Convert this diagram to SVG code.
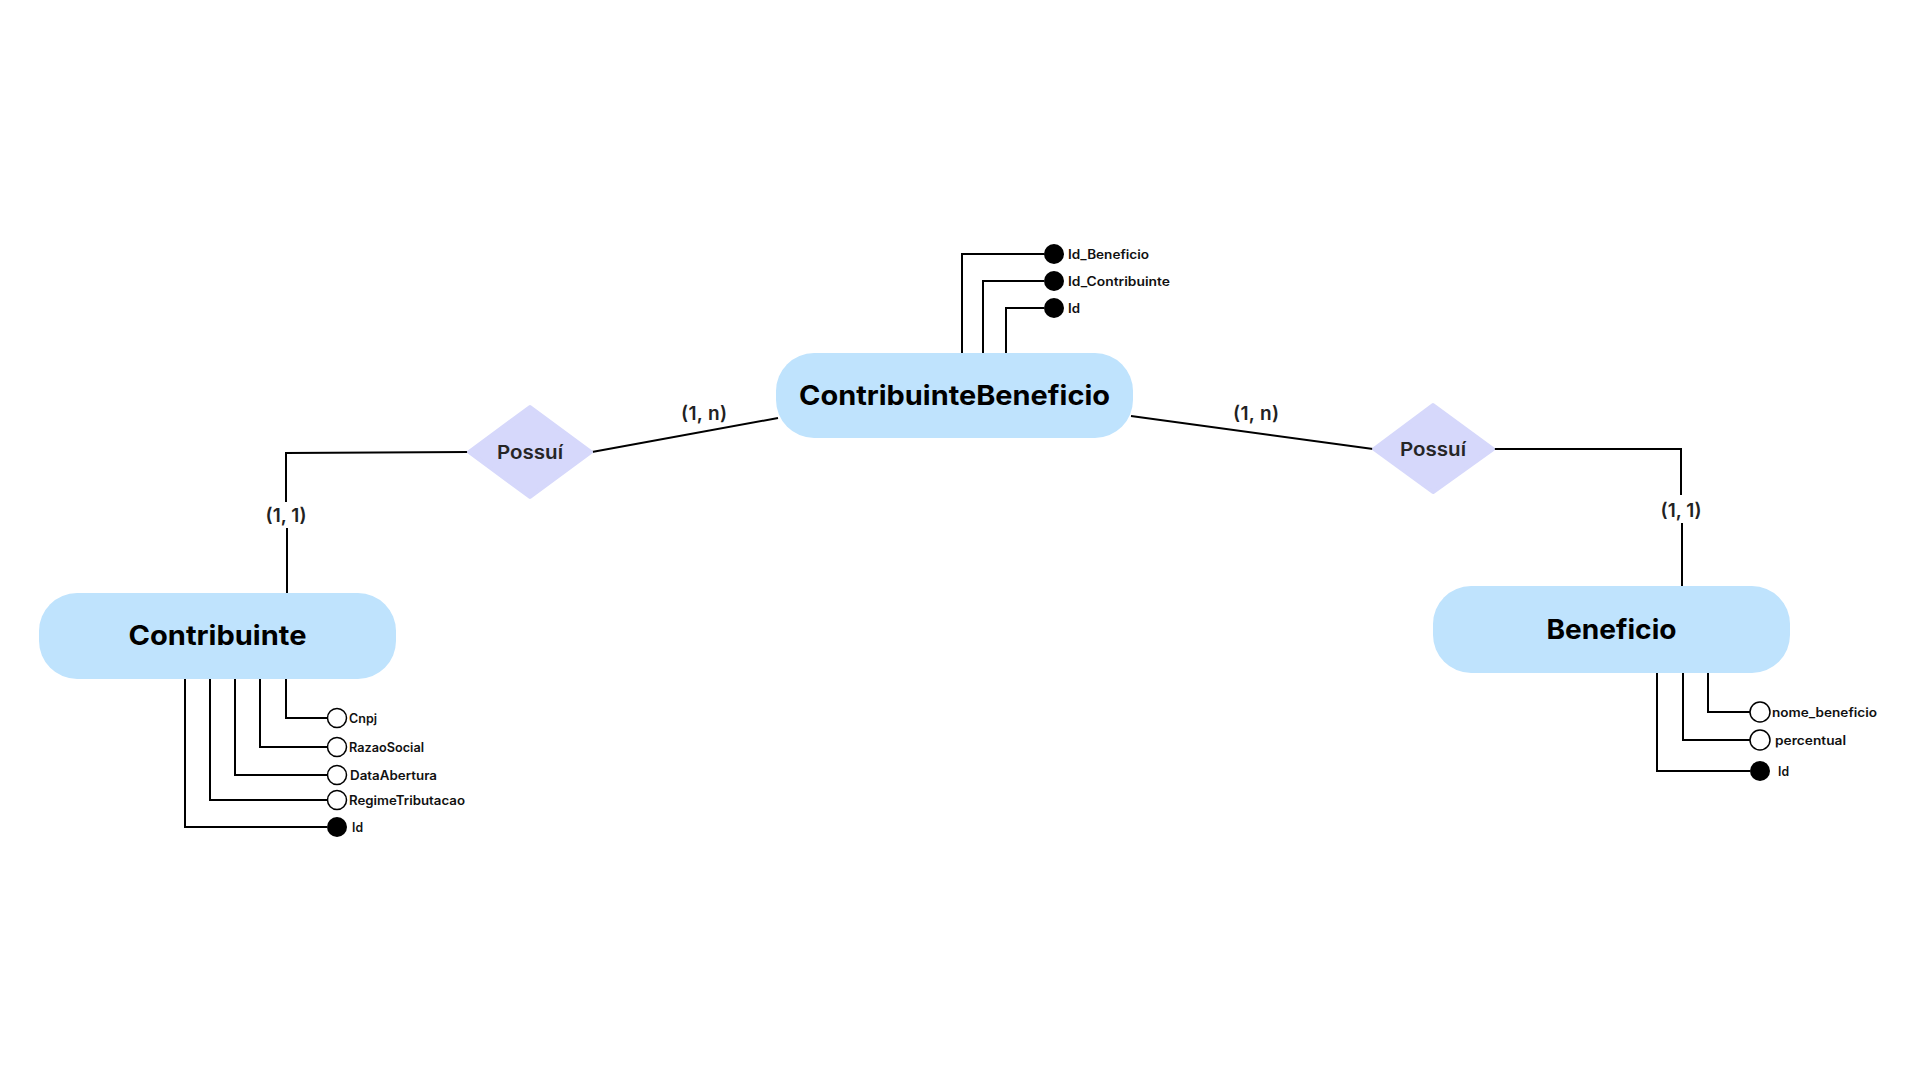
<svg xmlns="http://www.w3.org/2000/svg" width="1920" height="1080" viewBox="0 0 1920 1080">
<style>
.entity{fill:#bfe3fd}
.rel{fill:#d6d8fb;stroke:#d6d8fb;stroke-width:4;stroke-linejoin:round}
.ln{fill:none;stroke:#000;stroke-width:2}
.title{font-family:Inter,"Liberation Sans",sans-serif;font-weight:700;font-size:27px;fill:#000;text-anchor:middle}
.rtext{font-family:Inter,"Liberation Sans",sans-serif;font-weight:600;font-size:19px;fill:#262626;text-anchor:middle}
.card{font-family:Inter,"Liberation Sans",sans-serif;font-weight:600;font-size:19px;fill:#222;text-anchor:middle}
.attr{font-family:Inter,"Liberation Sans",sans-serif;font-weight:600;font-size:12.5px;fill:#111}
.pk{fill:#000}
.att{fill:#fff;stroke:#000;stroke-width:1.5}
</style>
<rect width="1920" height="1080" fill="#fff"/>
<g id="connectors">
  <polyline class="ln" points="468,452 286,453 286,502"/>
  <line class="ln" x1="287" y1="528" x2="287" y2="593"/>
  <line class="ln" x1="592" y1="452" x2="778" y2="418"/>
  <line class="ln" x1="1131" y1="416" x2="1373" y2="449"/>
  <polyline class="ln" points="1494,449 1681,449 1681,495"/>
  <line class="ln" x1="1682" y1="523" x2="1682" y2="586"/>
  <path class="ln" d="M962,353 V254 H1044"/>
  <path class="ln" d="M983,353 V281 H1044"/>
  <path class="ln" d="M1006,353 V308 H1044"/>
  <path class="ln" d="M286,679 V718 H327"/>
  <path class="ln" d="M260,679 V747 H327"/>
  <path class="ln" d="M235,679 V775 H327"/>
  <path class="ln" d="M210,679 V800 H327"/>
  <path class="ln" d="M185,679 V827 H327"/>
  <path class="ln" d="M1708,673 V712 H1750"/>
  <path class="ln" d="M1683,673 V740 H1750"/>
  <path class="ln" d="M1657,673 V771 H1750"/>
  <text class="card" x="704" y="420" textLength="46">(1, n)</text>
  <text class="card" x="1256" y="420" textLength="46">(1, n)</text>
  <text class="card" x="286" y="522" textLength="41">(1, 1)</text>
  <text class="card" x="1681" y="517" textLength="41">(1, 1)</text>
</g>
<g id="ContribuinteBeneficio">
  <rect class="entity" x="776" y="353" width="357" height="85" rx="38"/>
  <text class="title" x="954.5" y="405" textLength="311" lengthAdjust="spacingAndGlyphs">ContribuinteBeneficio</text>
</g>
<g id="Contribuinte">
  <rect class="entity" x="39" y="593" width="357" height="86" rx="38"/>
  <text class="title" x="217.5" y="645" textLength="178" lengthAdjust="spacingAndGlyphs">Contribuinte</text>
</g>
<g id="Beneficio">
  <rect class="entity" x="1433" y="586" width="357" height="87" rx="38"/>
  <text class="title" x="1611.5" y="639" textLength="130" lengthAdjust="spacingAndGlyphs">Beneficio</text>
</g>
<g id="PossuiLeft">
  <polygon class="rel" points="530,407 591,452 530,497 469,452"/>
  <text class="rtext" x="530" y="459" textLength="66" lengthAdjust="spacingAndGlyphs">Possuí</text>
</g>
<g id="PossuiRight">
  <polygon class="rel" points="1433,405 1493,449 1433,492 1374,449"/>
  <text class="rtext" x="1433" y="456" textLength="66" lengthAdjust="spacingAndGlyphs">Possuí</text>
</g>
<g id="cb_Id_Beneficio">
  <circle class="pk" cx="1054" cy="254" r="10"/>
  <text class="attr" x="1068" y="258.5" textLength="81" lengthAdjust="spacingAndGlyphs">Id_Beneficio</text>
</g>
<g id="cb_Id_Contribuinte">
  <circle class="pk" cx="1054" cy="281" r="10"/>
  <text class="attr" x="1068" y="285.5" textLength="102" lengthAdjust="spacingAndGlyphs">Id_Contribuinte</text>
</g>
<g id="cb_Id">
  <circle class="pk" cx="1054" cy="308" r="10"/>
  <text class="attr" x="1068" y="312.5" textLength="12" lengthAdjust="spacingAndGlyphs">Id</text>
</g>
<g id="c_Cnpj">
  <circle class="att" cx="337" cy="718" r="9.5"/>
  <text class="attr" x="349" y="722.5" textLength="28" lengthAdjust="spacingAndGlyphs">Cnpj</text>
</g>
<g id="c_RazaoSocial">
  <circle class="att" cx="337" cy="747" r="9.5"/>
  <text class="attr" x="349" y="751.5" textLength="75" lengthAdjust="spacingAndGlyphs">RazaoSocial</text>
</g>
<g id="c_DataAbertura">
  <circle class="att" cx="337" cy="775" r="9.5"/>
  <text class="attr" x="350" y="779.5" textLength="87" lengthAdjust="spacingAndGlyphs">DataAbertura</text>
</g>
<g id="c_RegimeTributacao">
  <circle class="att" cx="337" cy="800" r="9.5"/>
  <text class="attr" x="349" y="804.5" textLength="116" lengthAdjust="spacingAndGlyphs">RegimeTributacao</text>
</g>
<g id="c_Id">
  <circle class="pk" cx="337" cy="827" r="10"/>
  <text class="attr" x="352" y="831.5" textLength="11" lengthAdjust="spacingAndGlyphs">Id</text>
</g>
<g id="b_nome_beneficio">
  <circle class="att" cx="1760" cy="712" r="10"/>
  <text class="attr" x="1772" y="716.5" textLength="105" lengthAdjust="spacingAndGlyphs">nome_beneficio</text>
</g>
<g id="b_percentual">
  <circle class="att" cx="1760" cy="740" r="10"/>
  <text class="attr" x="1775" y="744.5" textLength="71" lengthAdjust="spacingAndGlyphs">percentual</text>
</g>
<g id="b_Id">
  <circle class="pk" cx="1760" cy="771" r="10"/>
  <text class="attr" x="1778" y="775.5" textLength="11" lengthAdjust="spacingAndGlyphs">Id</text>
</g>
</svg>
